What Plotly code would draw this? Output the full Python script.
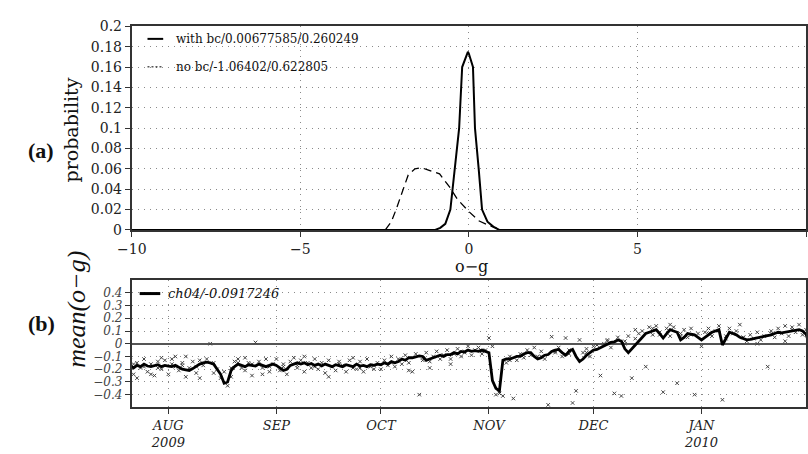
import plotly.graph_objects as go
import pandas as pd

# ---------------- data: panel (a) ----------------
with_bc_x = [-10, -1.0, -0.85, -0.7, -0.55, -0.48, -0.41, -0.29, -0.26, -0.2, -0.03, 0.0,
             0.12, 0.16, 0.18, 0.29, 0.33, 0.39, 0.55, 0.73, 0.9, 10]
with_bc_y = [0, 0, 0.002, 0.006, 0.02, 0.04, 0.06, 0.10, 0.12, 0.16, 0.175, 0.173,
             0.16, 0.12, 0.10, 0.06, 0.04, 0.02, 0.008, 0.003, 0, 0]
no_bc_x = [-2.48, -2.30, -2.16, -1.95, -1.80, -1.6, -1.4, -1.22, -0.87, -0.57, -0.34,
           0.0, 0.29, 0.62, 0.82]
no_bc_y = [0.0, 0.008, 0.02, 0.04, 0.054, 0.060, 0.061, 0.059, 0.055, 0.042, 0.03,
           0.018, 0.009, 0.004, 0.002]
legend_a = ["with bc/0.00677585/0.260249", "no bc/-1.06402/0.622805"]

# ---------------- data: panel (b) ----------------
start_date = "2009-07-21"
line_val = [-0.17, -0.19, -0.17, -0.18, -0.16, -0.175, -0.18, -0.17, -0.165, -0.18,
            -0.17, -0.175, -0.18, -0.17, -0.185, -0.2, -0.205, -0.21, -0.195, -0.175,
            -0.16, -0.15, -0.145, -0.15, -0.16, -0.2, -0.24, -0.31, -0.3, -0.21,
            -0.18, -0.16, -0.17, -0.18, -0.165, -0.17, -0.175, -0.16, -0.17, -0.18,
            -0.17, -0.16, -0.17, -0.19, -0.21, -0.2, -0.17, -0.16, -0.15, -0.16,
            -0.15, -0.165, -0.155, -0.17, -0.16, -0.175, -0.16, -0.17, -0.18, -0.165,
            -0.17, -0.18, -0.165, -0.17, -0.18, -0.16, -0.175, -0.17, -0.18, -0.165,
            -0.17, -0.16, -0.165, -0.15, -0.16, -0.14, -0.15, -0.14, -0.12, -0.13,
            -0.11, -0.11, -0.1, -0.095, -0.1, -0.13, -0.12, -0.11, -0.1, -0.09,
            -0.1, -0.085, -0.085, -0.07, -0.08, -0.06, -0.065, -0.05, -0.06, -0.055,
            -0.06, -0.05, -0.06, -0.07, -0.29, -0.35, -0.37, -0.13, -0.12, -0.12,
            -0.11, -0.1, -0.1, -0.08, -0.07, -0.07, -0.1, -0.12, -0.11, -0.09,
            -0.085, -0.06, -0.05, -0.045, -0.07, -0.09, -0.06, -0.045, -0.1, -0.14,
            -0.12, -0.09, -0.07, -0.05, -0.045, -0.03, -0.02, 0.0, 0.01, 0.015,
            0.03, 0.02, -0.04, -0.07, -0.04, -0.01, 0.02, 0.05, 0.08, 0.09,
            0.1, 0.11, 0.08, 0.045, 0.08, 0.11, 0.1, 0.09, 0.03, 0.05,
            0.08, 0.075, 0.07, 0.05, 0.03, 0.05, 0.07, 0.09, 0.1, 0.11,
            -0.01, 0.04, 0.09, 0.08, 0.07, 0.05, 0.04, 0.03, 0.035, 0.04,
            0.045, 0.05, 0.055, 0.06, 0.07, 0.08, 0.09, 0.085, 0.09, 0.09,
            0.1, 0.105, 0.11, 0.1, 0.075, -0.01]
line_day = list(range(len(line_val)))

pt_day = [0, 1, 2, 3, 4, 5, 6, 7, 8, 9, 10, 11, 12, 13, 14, 15, 16, 17, 18, 19, 20, 21, 22,
          23, 24, 25, 26, 27, 28, 29, 30, 31, 32, 33, 34, 35, 36, 37, 38, 39, 40, 41,
          2, 6, 9, 13, 16, 20, 24, 33, 38, 1, 4, 8, 12, 15, 19, 29, 31, 35, 40,
          42, 43, 44, 45, 46, 47, 48, 49, 50, 51, 52, 53, 54, 55, 56, 57, 58, 59, 60, 61,
          62, 63, 64, 65, 66, 67, 68, 69, 70, 71, 50, 57, 64, 44, 48, 53, 60, 66, 70,
          72, 73, 74, 75, 76, 77, 78, 79, 80, 81, 82, 83, 84, 85, 86, 87, 88, 89, 90, 91,
          92, 93, 94, 95, 96, 97, 98, 99, 100, 101, 102, 103, 80, 86, 92, 75, 84, 90, 96, 101,
          104, 105, 106, 107, 108, 109, 110, 111, 112, 113, 114, 115, 116, 117, 118, 119,
          120, 121, 122, 123, 124, 125, 126, 127, 128, 129, 130, 131, 132, 133,
          109, 113, 118, 122, 126, 131,
          134, 135, 136, 137, 138, 139, 140, 141, 142, 143, 144, 145, 146, 147, 148, 149,
          150, 151, 152, 153, 154, 155, 156, 157, 158, 159, 160, 161, 162, 163, 145, 150, 155,
          137, 142, 152, 158, 161,
          164, 165, 166, 167, 168, 169, 170, 171, 172, 173, 174, 175, 176, 177, 178, 179,
          180, 181, 182, 183, 184, 185, 186, 187, 188, 189, 190, 191, 192, 193, 194, 180, 188,
          166, 171, 176, 184, 190]
pt_val = [-0.13, -0.24, -0.15, -0.19, -0.12, -0.22, -0.16, -0.25, -0.14, -0.20, -0.13, -0.24,
          -0.12, -0.18, -0.21, -0.15, -0.26, -0.19, -0.14, -0.23, -0.13, -0.17, -0.12, 0.0,
          -0.15, -0.20, -0.27, -0.22, -0.33, -0.26, -0.14, -0.12, -0.19, -0.21, -0.15, -0.25,
          0.01, -0.14, -0.19, -0.12, -0.22, -0.16,
          -0.27, -0.24, -0.11, -0.10, -0.10, -0.27, -0.23, -0.11, -0.24,
          -0.16, -0.18, -0.19, -0.16, -0.17, -0.18, -0.19, -0.15, -0.16, -0.18,
          -0.12, -0.21, -0.18, -0.24, -0.14, -0.11, -0.19, -0.13, -0.22, -0.15, -0.19, -0.12,
          -0.20, -0.15, -0.23, -0.13, -0.18, -0.21, -0.14, -0.17, -0.22, -0.13, -0.19, -0.20,
          -0.14, -0.22, -0.12, -0.18, -0.20, -0.15, -0.10, -0.26, -0.11,
          -0.16, -0.17, -0.18, -0.16, -0.19, -0.17,
          -0.20, -0.13, -0.17, -0.10, -0.18, -0.12, -0.16, -0.09, -0.15, -0.22, -0.08, -0.40,
          -0.13, -0.07, -0.14, -0.10, -0.06, -0.12, -0.09, -0.05, -0.12, -0.08, -0.04, -0.10,
          -0.06, -0.02, -0.09, -0.05, -0.03, -0.08, -0.05, 0.045, -0.21, -0.19, -0.16,
          -0.15, -0.11, -0.09, -0.07, -0.06,
          -0.02, -0.40, -0.39, -0.41, -0.15, -0.10, -0.43, -0.13, -0.08, -0.11, -0.05, -0.09,
          -0.03, -0.10, -0.06, -0.12, -0.48, 0.055, -0.07, -0.03, -0.10, 0.045, -0.05, -0.465,
          -0.37, 0.03, -0.07, -0.04, -0.10, -0.02,
          -0.13, -0.09, -0.1, -0.06, -0.08, -0.07,
          -0.01, -0.25, 0.0, 0.03, -0.03, -0.39, 0.05, -0.41, 0.02, 0.06, -0.27, 0.04, 0.08,
          0.10, -0.18, 0.13, 0.07, 0.14, 0.09, -0.38, 0.12, 0.06, 0.13, -0.31, 0.08, 0.11,
          0.05, 0.12, -0.40, 0.08, 0.11, 0.12, 0.15,
          0.02, 0.0, 0.07, 0.06, 0.07,
          -0.02, 0.09, 0.12, 0.06, 0.10, 0.14, -0.44, 0.04, 0.12, 0.08, 0.10, 0.15, 0.05,
          0.02, 0.07, 0.04, 0.09, 0.03, 0.06, -0.18, 0.10, 0.05, 0.12, 0.08, 0.14, 0.06,
          0.13, 0.09, 0.15, 0.07, 0.11, 0.0, 0.02,
          0.08, 0.06, 0.05, 0.08, 0.11]
legend_b = "ch04/-0.0917246"
month_ticks = ["2009-08-01", "2009-09-01", "2009-10-01", "2009-11-01", "2009-12-01", "2010-01-01"]
month_text = ["AUG<br>2009", "SEP", "OCT", "NOV", "DEC", "JAN<br>2010"]

t0 = pd.Timestamp(start_date)
line_dates = [t0 + pd.Timedelta(days=d) for d in line_day]
pt_dates = [t0 + pd.Timedelta(days=d) for d in pt_day]

W, H = 808, 454
def px(x): return x / W
def py(y): return 1 - y / H

SERIF = "DejaVu Serif"
fig = go.Figure()

fig.add_trace(go.Scatter(x=with_bc_x, y=with_bc_y, mode="lines",
                         line=dict(color="black", width=2), xaxis="x", yaxis="y",
                         showlegend=False))
fig.add_trace(go.Scatter(x=no_bc_x, y=no_bc_y, mode="lines",
                         line=dict(color="black", width=1.3, dash="8px,5px"),
                         xaxis="x", yaxis="y", showlegend=False))
fig.add_trace(go.Scatter(x=pt_dates, y=pt_val, mode="markers",
                         marker=dict(symbol="x-thin", size=3.5, color="#444",
                                     line=dict(width=1, color="#444")),
                         xaxis="x2", yaxis="y2", showlegend=False))
fig.add_trace(go.Scatter(x=line_dates, y=line_val, mode="lines",
                         line=dict(color="black", width=2.8), xaxis="x2", yaxis="y2",
                         showlegend=False))

grid = dict(showgrid=True, gridcolor="#8a8a8a", gridwidth=1, griddash="1px,5px")
frame = dict(showline=True, mirror=True, linecolor="#333", linewidth=2,
             ticks="outside", ticklen=5, tickcolor="#333")

fig.update_layout(
    width=W, height=H, margin=dict(l=0, r=0, t=0, b=0),
    paper_bgcolor="white", plot_bgcolor="white", showlegend=False,
    xaxis=dict(domain=[px(119), px(806)], range=[-10, 10], tickvals=[-10, -5, 0, 5, 10],
               zeroline=False, anchor="y",
               tickfont=dict(family=SERIF, size=14, color="#222"), **grid, **frame),
    yaxis=dict(domain=[py(230), py(19)], range=[0, 0.2], dtick=0.02, zeroline=False,
               anchor="x", tickfont=dict(family=SERIF, size=14, color="#222"),
               **grid, **frame),
    xaxis2=dict(domain=[px(119), px(806)], type="date",
                range=["2009-07-21 12:00", "2010-01-31"],
                tickvals=month_ticks, ticktext=month_text, anchor="y2", zeroline=False,
                tickfont=dict(family=SERIF, size=13, color="#222", style="italic"),
                **grid, **frame),
    yaxis2=dict(domain=[py(414), py(282)], range=[-0.5, 0.5],
                tickvals=[-0.4, -0.3, -0.2, -0.1, 0, 0.1, 0.2, 0.3, 0.4], anchor="x2",
                zeroline=True, zerolinecolor="#555", zerolinewidth=2,
                tickfont=dict(family=SERIF, size=12, color="#444", style="italic"),
                **grid, **frame),
)

def note(text, x, y, size, family=SERIF, angle=0, style="normal", xanchor="center"):
    return dict(text=text, x=px(x), y=py(y), xref="paper", yref="paper",
                xanchor=xanchor, yanchor="middle", showarrow=False, textangle=angle,
                font=dict(family=family, size=size, color="#111", style=style))

ann = [
    note("probability", 57, 126, 19, angle=-90),
    note("o\u2212g", 465, 268, 16),
    note("mean(o\u2212g)", 62, 312, 26, family="Liberation Serif", angle=-90, style="italic"),
    note("<b>(a)</b>", 27, 148, 22, family="Liberation Serif"),
    note("<b>(b)</b>", 27, 327, 22, family="Liberation Serif"),
    note(legend_a[0], 162, 32, 12, xanchor="left"),
    note(legend_a[1], 162, 61, 12, xanchor="left"),
    note(legend_b, 154, 296, 13, style="italic", xanchor="left"),
]
fig.update_layout(annotations=ann)

shapes = [
    dict(type="line", xref="paper", yref="paper", x0=px(135), x1=px(151), y0=py(32), y1=py(32),
         line=dict(color="black", width=2)),
    dict(type="line", xref="paper", yref="paper", x0=px(135), x1=px(151), y0=py(61), y1=py(61),
         line=dict(color="black", width=1, dash="2px,2px")),
    dict(type="line", xref="paper", yref="paper", x0=px(127), x1=px(148), y0=py(296), y1=py(296),
         line=dict(color="black", width=3)),
]
fig.update_layout(shapes=shapes)

fig.write_html("out.html")
